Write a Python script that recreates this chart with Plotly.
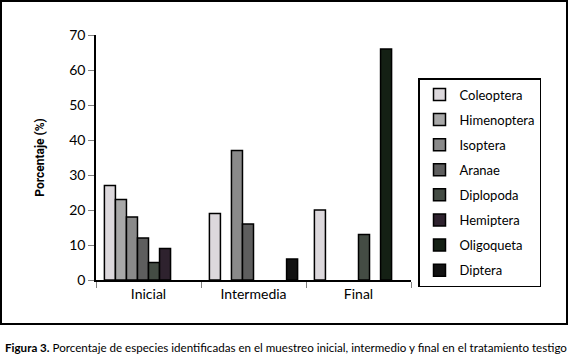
import plotly.graph_objects as go

categories = ["Inicial", "Intermedia", "Final"]
species = ["Coleoptera", "Himenoptera", "Isoptera", "Aranae", "Diplopoda",
           "Hemiptera", "Oligoqueta", "Diptera"]
coleoptera = [27, 19, 20]
himenoptera = [23, None, None]
isoptera = [18, 37, None]
aranae = [12, 16, None]
diplopoda = [5, None, 13]
hemiptera = [9, None, None]
oligoqueta = [None, None, 66]
diptera = [None, 6, None]
series = [coleoptera, himenoptera, isoptera, aranae, diplopoda, hemiptera, oligoqueta, diptera]
colors = ["#dcd8dc", "#a8a8a8", "#8a8a8a", "#5e5e5e", "#444c44", "#2e222e", "#142014", "#121212"]
y_ticks = [0, 10, 20, 30, 40, 50, 60, 70]

W, H = 569, 359
L, R, T, B = 96, 411, 35, 280
pw, ph = R - L, B - T

def px(x):
    return (x - L) / pw

def py(y):
    return (B - y) / ph

fig = go.Figure()
for i, (name, vals) in enumerate(zip(species, series)):
    fig.add_trace(go.Bar(
        x=categories, y=vals, name=name,
        marker=dict(color=colors[i], line=dict(color="#000000", width=1.5)),
        legendgroup=name,
    ))

base_font = "Lato, Open Sans, sans-serif"

fig.update_layout(
    width=W, height=H,
    margin=dict(l=L, r=W - R, t=T, b=H - B, pad=0, autoexpand=False),
    paper_bgcolor="white", plot_bgcolor="white",
    barmode="group", bargap=0.16, bargroupgap=0,
    font=dict(family=base_font, size=14, color="#000000"),
    xaxis=dict(
        showline=True, linecolor="#000000", linewidth=1.5,
        ticks="outside", tickson="boundaries", ticklen=6, tickcolor="#808080",
        tickfont=dict(size=14), showgrid=False,
    ),
    yaxis=dict(
        range=[0, 70], tickvals=y_ticks, showline=True, linecolor="#000000",
        linewidth=1.5, ticks="outside", ticklen=6, tickcolor="#808080",
        showgrid=False, zeroline=False, tickfont=dict(size=14),
        title=dict(text="<b>Porcentaje (%)</b>", font=dict(family="Roboto, sans-serif", size=12), standoff=22),
    ),
    legend=dict(
        x=px(418), y=py(78), xanchor="left", yanchor="top",
        bordercolor="#000000", borderwidth=1.5, bgcolor="white",
        font=dict(size=13), tracegroupgap=5.2,
        itemwidth=30,
    ),
    shapes=[dict(type="rect", xref="paper", yref="paper",
                 x0=px(1), x1=px(567), y0=py(324), y1=py(1),
                 line=dict(color="#000000", width=2), layer="below")],
    annotations=[dict(
        xref="paper", yref="paper", x=px(3), y=py(347), xanchor="left", yanchor="middle",
        text="<b>Figura 3.</b> Porcentaje de especies identificadas en el muestreo inicial, intermedio y final en el tratamiento testigo",
        showarrow=False, font=dict(family="Lato, sans-serif", size=11.6, color="#000000"),
    )],
)

fig.write_html("out.html", config={"displayModeBar": False},
               post_script="document.body.style.margin='0';")
